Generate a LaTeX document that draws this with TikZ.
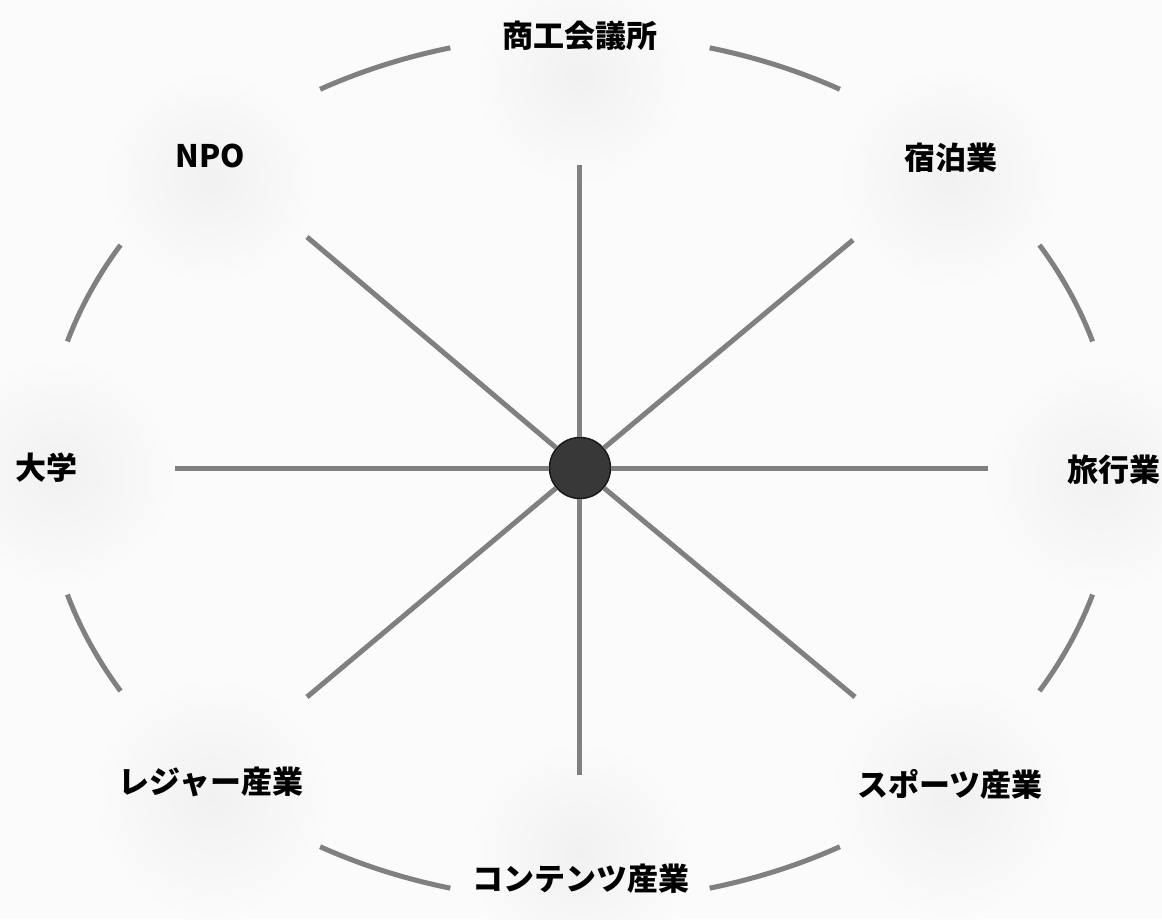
\documentclass[tikz,border=0pt]{standalone}
\usepackage{fontspec}
\setmainfont{Noto Sans CJK JP}
\usetikzlibrary{positioning,calc}

\tikzset{
    spoke/.style={draw=black!50, line width=5pt},
    rim/.style={draw=black!50, line width=5pt},
    blob/.style={inner color=gray!11, outer color=gray!3},
    sector/.style={font=\fontsize{31}{36}\selectfont\bfseries, inner sep=0pt},
}

\begin{document}
\begin{tikzpicture}[x=1pt, y=1pt]
    % Page and paper tone
    \useasboundingbox[fill=gray!3] (-580,-451) rectangle (582,468);

    % Faint patches behind the names
    \shade[blob] (0,-385) circle (115);
    \shade[blob] (-367,-330) circle (125);
    \shade[blob] (370,-330) circle (125);
    \shade[blob] (-520,-5) circle (120);
    \shade[blob] (520,-10) circle (120);
    \shade[blob] (370,290) circle (115);
    \shade[blob] (-370,290) circle (110);
    \shade[blob] (0,390) circle (110);

    % The hub
    \node[circle, fill=black!78, draw=black!90, line width=1.5pt,
          minimum size=61pt, inner sep=0pt] (hub) at (0,0) {};

    % Free ends of the spokes
    \coordinate (n) at (0,303);
    \coordinate (s) at (0,-307);
    \coordinate (w) at (-405,0);
    \coordinate (e) at (408,0);
    \coordinate (nw) at (-273,231);
    \coordinate (ne) at (273,228);
    \coordinate (sw) at (-273,-229);
    \coordinate (se) at (275,-229);

    % Spokes
    \draw[spoke] (hub) -- (n);
    \draw[spoke] (hub) -- (s);
    \draw[spoke] (hub) -- (w);
    \draw[spoke] (hub) -- (e);
    \draw[spoke] (hub) -- (nw);
    \draw[spoke] (hub) -- (ne);
    \draw[spoke] (hub) -- (sw);
    \draw[spoke] (hub) -- (se);

    % Pieces of the outer ring
    \draw[rim] (17:536 and 433) arc[start angle=17, end angle=31, x radius=536, y radius=433];
    \draw[rim] (61:536 and 433) arc[start angle=61, end angle=76, x radius=536, y radius=433];
    \draw[rim] (104:536 and 433) arc[start angle=104, end angle=119, x radius=536, y radius=433];
    \draw[rim] (149:536 and 433) arc[start angle=149, end angle=163, x radius=536, y radius=433];
    \draw[rim] (197:536 and 433) arc[start angle=197, end angle=211, x radius=536, y radius=433];
    \draw[rim] (241:536 and 433) arc[start angle=241, end angle=256, x radius=536, y radius=433];
    \draw[rim] (284:536 and 433) arc[start angle=284, end angle=299, x radius=536, y radius=433];
    \draw[rim] (329:536 and 433) arc[start angle=329, end angle=343, x radius=536, y radius=433];

    % Names round the ring
    \node[sector] (cci) at (0,432) {商工会議所};
    \node[sector] (inn) at (371,310) {宿泊業};
    \node[sector] (travel) at (534,-2) {旅行業};
    \node[sector] (sports) at (370,-316) {スポーツ産業};
    \node[sector] (contents) at (1,-411) {コンテンツ産業};
    \node[sector] (leisure) at (-369,-314) {レジャー産業};
    \node[sector] (univ) at (-533,0) {大学};
    \node[sector] (npo) at (-370,312) {NPO};

\end{tikzpicture}
\end{document}
